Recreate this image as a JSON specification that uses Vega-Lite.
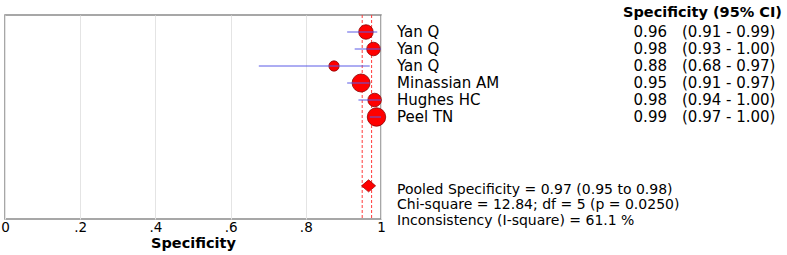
{
  "$schema": "https://vega.github.io/schema/vega-lite/v6.json",
  "width": 376,
  "height": 204,
  "autosize": {"type": "none"},
  "padding": {"left": 5, "top": 15, "right": 406, "bottom": 36},
  "background": "white",
  "config": {
    "view": {"stroke": "#8a8a8a", "strokeWidth": 1.5},
    "font": "DejaVu Sans",
    "text": {"font": "DejaVu Sans", "fontSize": 15, "color": "black"}
  },
  "datasets": {
    "studies": [
      {"row": 1, "study": "Yan Q", "est": 0.96, "lo": 0.91, "hi": 0.99, "weight": 62, "estText": "0.96", "ciText": "(0.91 - 0.99)"},
      {"row": 2, "study": "Yan Q", "est": 0.98, "lo": 0.93, "hi": 1.0, "weight": 54, "estText": "0.98", "ciText": "(0.93 - 1.00)"},
      {"row": 3, "study": "Yan Q", "est": 0.875, "lo": 0.675, "hi": 0.97, "weight": 31, "estText": "0.88", "ciText": "(0.68 - 0.97)"},
      {"row": 4, "study": "Minassian AM", "est": 0.947, "lo": 0.91, "hi": 0.97, "weight": 95, "estText": "0.95", "ciText": "(0.91 - 0.97)"},
      {"row": 5, "study": "Hughes HC", "est": 0.983, "lo": 0.94, "hi": 1.0, "weight": 54, "estText": "0.98", "ciText": "(0.94 - 1.00)"},
      {"row": 6, "study": "Peel TN", "est": 0.988, "lo": 0.97, "hi": 1.0, "weight": 100, "estText": "0.99", "ciText": "(0.97 - 1.00)"}
    ],
    "refLines": [{"v": 0.95}, {"v": 0.975}],
    "pooled": [{"est": 0.967, "row": 10.05}],
    "header": [{"label": "Specificity (95% CI)", "row": -0.1}],
    "stats": [
      {"line": "Pooled Specificity = 0.97 (0.95 to 0.98)", "row": 10.3},
      {"line": "Chi-square = 12.84; df =  5 (p = 0.0250)", "row": 11.2},
      {"line": "Inconsistency (I-square) = 61.1 %", "row": 12.1}
    ]
  },
  "layer": [
    {
      "data": {"name": "refLines"},
      "mark": {"type": "rule", "color": "#ff3b3b", "strokeWidth": 1, "strokeDash": [3, 2]},
      "encoding": {
        "x": {
          "field": "v",
          "type": "quantitative",
          "scale": {"domain": [0, 1], "nice": false, "zero": true},
          "axis": {
            "values": [0, 0.1, 0.2, 0.3, 0.4, 0.5, 0.6, 0.7, 0.8, 0.9, 1],
            "grid": true,
            "gridColor": "#e4e4e4",
            "gridWidth": 1,
            "domain": false,
            "ticks": false,
            "labelExpr": "datum.value == 0 ? '0' : (datum.value > 0.99 ? '1' : (round(datum.value * 10) % 2 == 1 ? '' : substring(format(datum.value, '.1f'), 1)))",
            "labelFont": "DejaVu Sans",
            "labelFontSize": 13.5,
            "labelColor": "black",
            "labelPadding": 1,
            "labelFlush": false,
            "labelOverlap": false,
            "title": "Specificity",
            "titleFont": "DejaVu Sans",
            "titleFontSize": 14.5,
            "titleFontWeight": "bold",
            "titleColor": "black",
            "titlePadding": 3
          }
        }
      }
    },
    {
      "data": {"name": "studies"},
      "mark": {"type": "point", "shape": "circle", "filled": true, "fill": "#ff0000", "fillOpacity": 1, "stroke": "#8b0000", "strokeWidth": 0.8},
      "encoding": {
        "x": {"field": "est", "type": "quantitative"},
        "y": {"field": "row", "type": "quantitative", "scale": {"domain": [0, 12], "reverse": true, "nice": false, "zero": false}, "axis": null},
        "size": {"field": "weight", "type": "quantitative", "scale": {"type": "linear", "domain": [0, 100], "range": [0, 340]}, "legend": null}
      }
    },
    {
      "data": {"name": "studies"},
      "mark": {"type": "rule", "color": "#5a5ae6", "strokeWidth": 1},
      "encoding": {
        "x": {"field": "lo", "type": "quantitative"},
        "x2": {"field": "hi"},
        "y": {"field": "row", "type": "quantitative"}
      }
    },
    {
      "data": {"name": "pooled"},
      "mark": {"type": "point", "shape": "M-1,0L0,-0.86L1,0L0,0.86Z", "filled": true, "fill": "#ff0000", "fillOpacity": 1, "stroke": "#a00000", "strokeWidth": 0.8, "size": 196},
      "encoding": {
        "x": {"field": "est", "type": "quantitative"},
        "y": {"field": "row", "type": "quantitative"}
      }
    },
    {
      "data": {"name": "studies"},
      "mark": {"type": "text", "align": "left", "baseline": "middle"},
      "encoding": {
        "x": {"datum": 1.0426, "type": "quantitative"},
        "y": {"field": "row", "type": "quantitative"},
        "text": {"field": "study"}
      }
    },
    {
      "data": {"name": "studies"},
      "mark": {"type": "text", "align": "right", "baseline": "middle"},
      "encoding": {
        "x": {"datum": 1.7606, "type": "quantitative"},
        "y": {"field": "row", "type": "quantitative"},
        "text": {"field": "estText"}
      }
    },
    {
      "data": {"name": "studies"},
      "mark": {"type": "text", "align": "left", "baseline": "middle"},
      "encoding": {
        "x": {"datum": 1.8005, "type": "quantitative"},
        "y": {"field": "row", "type": "quantitative"},
        "text": {"field": "ciText"}
      }
    },
    {
      "data": {"name": "header"},
      "mark": {"type": "text", "align": "right", "baseline": "middle", "fontWeight": "bold", "fontSize": 14.5},
      "encoding": {
        "x": {"datum": 2.0665, "type": "quantitative"},
        "y": {"field": "row", "type": "quantitative"},
        "text": {"field": "label"}
      }
    },
    {
      "data": {"name": "stats"},
      "mark": {"type": "text", "align": "left", "baseline": "middle", "fontSize": 14},
      "encoding": {
        "x": {"datum": 1.0426, "type": "quantitative"},
        "y": {"field": "row", "type": "quantitative"},
        "text": {"field": "line"}
      }
    }
  ]
}
